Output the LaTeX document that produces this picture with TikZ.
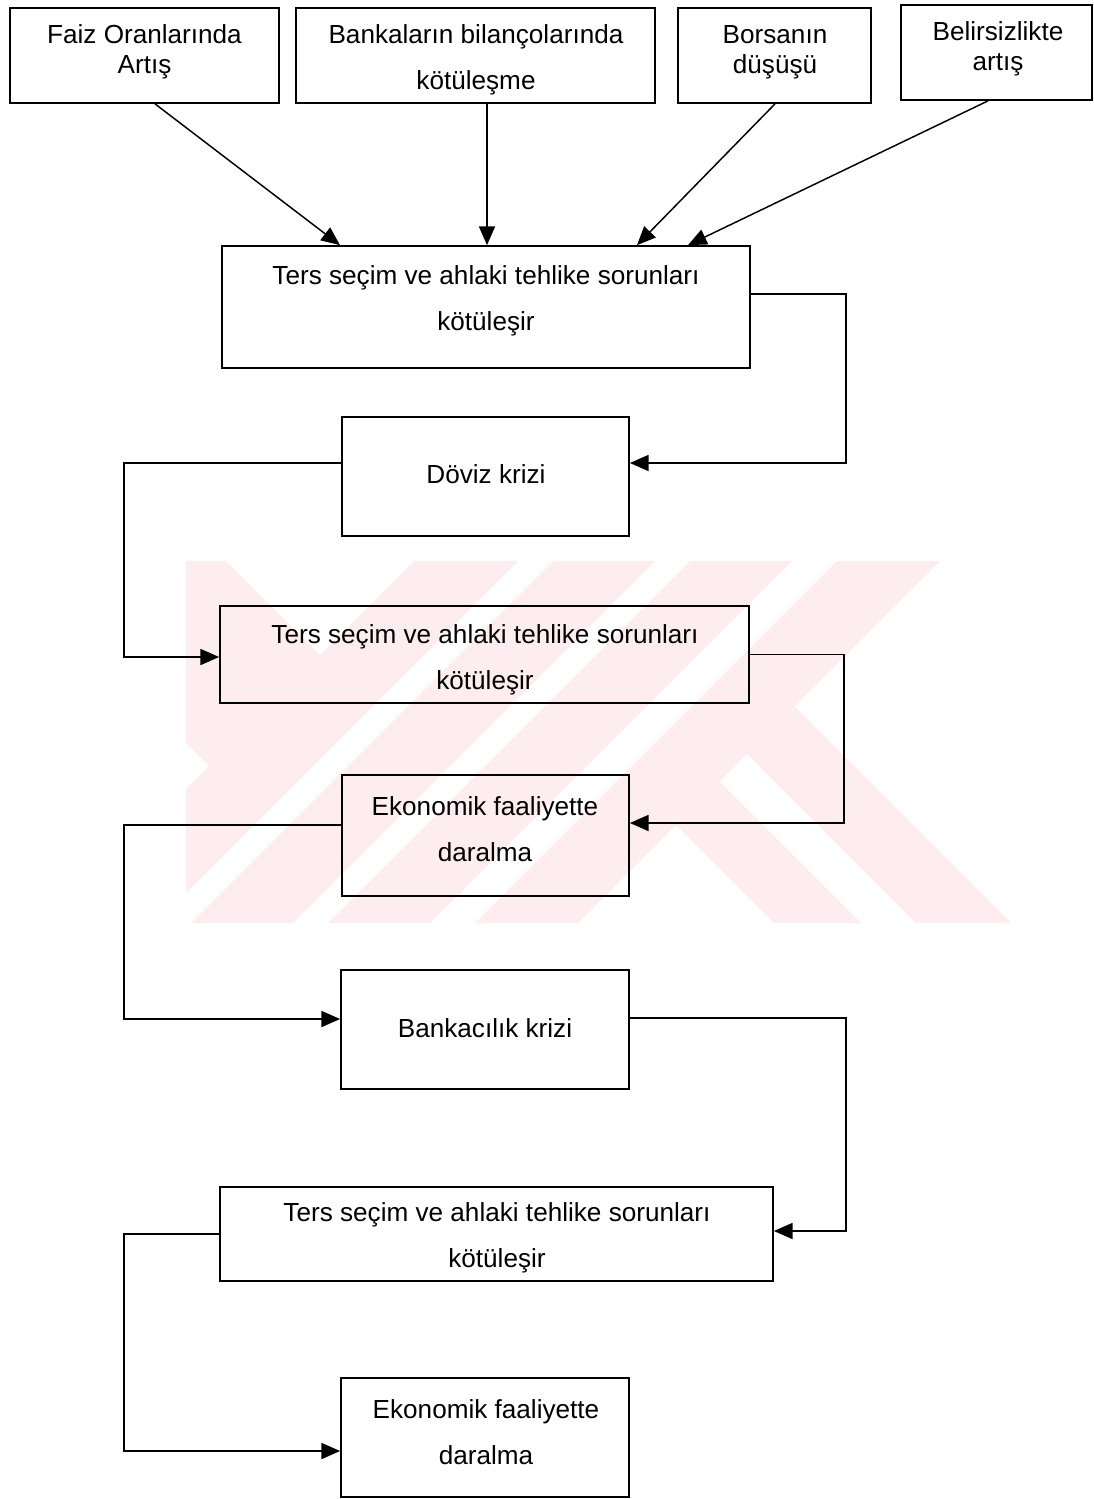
\documentclass[tikz,border=0pt]{standalone}
\usepackage{fontspec}
\setmainfont{Liberation Sans}
\usetikzlibrary{arrows.meta,calc}
\definecolor{wm}{RGB}{253,236,240}
\begin{document}
\begin{tikzpicture}[x=0.75pt,y=-0.75pt,
  bx/.style 2 args={draw,line width=1.3pt,rectangle,inner sep=0pt,minimum width=#1*0.75pt,minimum height=#2*0.75pt},
  txt/.style={align=center,font=\fontsize{19.6pt}{34.5pt}\selectfont,inner sep=0pt},
  txts/.style={align=center,font=\fontsize{19.6pt}{22.5pt}\selectfont,inner sep=0pt},
  arr/.style={line width=1.1pt,-{Triangle[length=14pt,width=12pt]}},
  wmark/.style={fill=wm,draw=none}]
\useasboundingbox (0,0) rectangle (1094,1499);
% watermark
\fill[wmark] (186,561) -- (226,561) -- (320,655) -- (209,766) -- (186,743) -- cycle;
\fill[wmark] (414,561) -- (518,561) -- (186,893) -- (186,789) -- cycle;
\fill[wmark] (553,561) -- (655,561) -- (293,923) -- (191,923) -- cycle;
\fill[wmark] (690,561) -- (792,561) -- (430,923) -- (328,923) -- cycle;
\fill[wmark] (837,561) -- (940,561) -- (578,923) -- (475,923) -- cycle;
\fill[wmark] (719.5,781.5) -- (861,923) -- (774,923) -- (676,825) -- cycle;
\fill[wmark] (794.5,706.5) -- (1011,923) -- (916,923) -- (747,754) -- cycle;
% boxes
\node[bx={269}{95}] (faiz) at (144.5,55.5) {};
\node[txts] (faizt) at (144.5,52) {Faiz Oranlarında\\Artış};
\node[bx={359}{95}] (banka) at (475.5,55.5) {};
\node[txt] (bankat) at (476,60) {Bankaların bilançolarında\\kötüleşme};
\node[bx={193}{95}] (borsa) at (774.5,55.5) {};
\node[txts] (borsat) at (775,52) {Borsanın\\düşüşü};
\node[bx={191}{95}] (belir) at (996.5,52.5) {};
\node[txts] (belirt) at (998,49) {Belirsizlikte\\artış};
\node[bx={528}{122}] (tersA) at (486,307) {};
\node[txt] (tersAt) at (486,301) {Ters seçim ve ahlaki tehlike sorunları\\kötüleşir};
\node[bx={287}{119}] (doviz) at (485.5,476.5) {};
\node[txt] (dovizt) at (486,474) {Döviz krizi};
\node[bx={529}{97}] (tersB) at (484.5,654.5) {};
\node[txt] (tersBt) at (485,660) {Ters seçim ve ahlaki tehlike sorunları\\kötüleşir};
\node[bx={287}{121}] (ekoA) at (485.5,835.5) {};
\node[txt] (ekoAt) at (485,829) {Ekonomik faaliyette\\daralma};
\node[bx={288}{119}] (bank) at (485,1029.5) {};
\node[txt] (bankt) at (485,1028) {Bankacılık krizi};
\node[bx={553}{94}] (tersC) at (496.5,1234) {};
\node[txt] (tersCt) at (497,1238) {Ters seçim ve ahlaki tehlike sorunları\\kötüleşir};
\node[bx={288}{119}] (ekoB) at (485,1437.5) {};
\node[txt] (ekoBt) at (486,1432) {Ekonomik faaliyette\\daralma};
% connectors
\draw[arr] ($(faiz.south)+(10.5,0)$) -- ($(tersA.north)+(-146,0)$);
\draw[arr] ($(banka.south)+(11.5,0)$) -- ($(tersA.north)+(1,0)$);
\draw[arr] ($(borsa.south)+(0.5,0)$) -- ($(tersA.north)+(151,0)$);
\draw[arr] ($(belir.south)+(-8.5,0)$) -- ($(tersA.north)+(202,0)$);
\draw[arr] ($(tersA.east)+(0,-13)$) -- ++(95,0) |- ($(doviz.east)+(0,-13.5)$);
\draw[arr] ($(doviz.west)+(0,-13.5)$) -- ++(-217,0) |- ($(tersB.west)+(0,2.5)$);
\draw[arr] (tersB.east) -- ++(94,0) |- ($(ekoA.east)+(0,-12.5)$);
\draw[arr] ($(ekoA.west)+(0,-10.5)$) -- ++(-217,0) |- ($(bank.west)+(0,-10.5)$);
\draw[arr] ($(bank.east)+(0,-11.5)$) -- ++(216,0) |- ($(tersC.east)+(0,-3)$);
\draw[arr] (tersC.west) -- ++(-95,0) |- ($(ekoB.west)+(0,13.5)$);
\end{tikzpicture}
\end{document}
